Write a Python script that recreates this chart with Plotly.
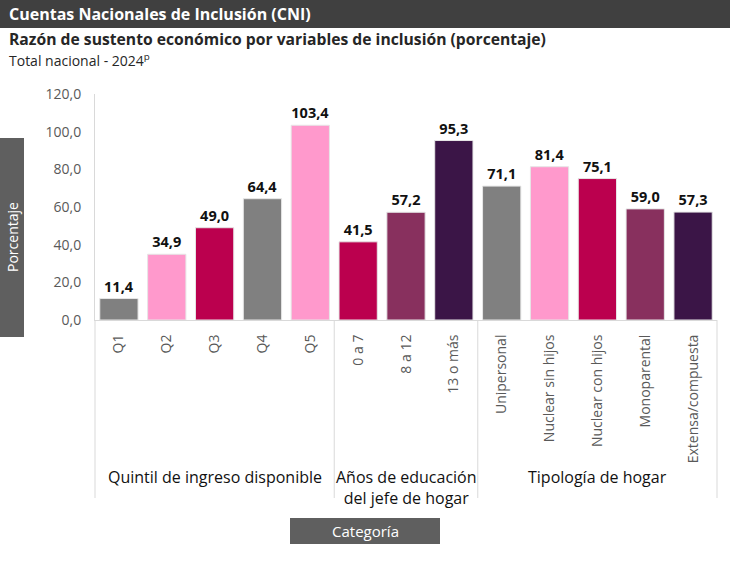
import plotly.graph_objects as go

# ---- data ----
categories = ["Q1", "Q2", "Q3", "Q4", "Q5",
              "0 a 7", "8 a 12", "13 o más",
              "Unipersonal", "Nuclear sin hijos", "Nuclear con hijos", "Monoparental", "Extensa/compuesta"]
values = [11.4, 34.9, 49.0, 64.4, 103.4,
          41.5, 57.2, 95.3,
          71.1, 81.4, 75.1, 59.0, 57.3]
groups = ["Quintil de ingreso disponible", "Años de educación<br>del jefe de hogar", "Tipología de hogar"]
group_sizes = [5, 3, 5]
y_ticks = [0, 20, 40, 60, 80, 100, 120]

GRAY = "#808080"; PINK = "#FF99CC"; CRIMSON = "#BB004E"; PLUM = "#88305E"; DARK = "#3B1547"
bar_colors = [GRAY, PINK, CRIMSON, GRAY, PINK,
              CRIMSON, PLUM, DARK,
              GRAY, PINK, CRIMSON, PLUM, DARK]

# ---- layout geometry (pixels) ----
W, H = 730, 562
ML, MR, MT, MB = 95, 13, 94, 242
PW, PH = W - ML - MR, H - MT - MB

def px(x):
    return (x - ML) / PW

def py(y):
    return (H - MB - y) / PH

FONT = "Open Sans"
n = len(categories)

fig = go.Figure(go.Bar(
    x=list(range(n)), y=values,
    marker=dict(color=bar_colors, line=dict(color="#E6E6E6", width=1)),
    width=0.8,
    texttemplate="<b>%{y:.1f}</b>", textposition="outside", cliponaxis=False,
    textfont=dict(family=FONT, size=14.5, color="#111111"),
    hoverinfo="skip",
))

shapes = []
annotations = []

# header bar
shapes.append(dict(type="rect", xref="paper", yref="paper", x0=px(0), x1=px(W), y0=py(28), y1=py(0),
                   fillcolor="#404040", line=dict(width=0), layer="below"))
annotations.append(dict(xref="paper", yref="paper", x=px(7), y=py(14), xanchor="left", yanchor="middle",
                        text="<b>Cuentas Nacionales de Inclusión (CNI)</b>", showarrow=False,
                        font=dict(family=FONT, size=16, color="white")))
annotations.append(dict(xref="paper", yref="paper", x=px(7), y=py(39), xanchor="left", yanchor="middle",
                        text="<b>Razón de sustento económico por variables de inclusión (porcentaje)</b>", showarrow=False,
                        font=dict(family=FONT, size=15.7, color="#262626")))
annotations.append(dict(xref="paper", yref="paper", x=px(7), y=py(60), xanchor="left", yanchor="middle",
                        text="Total nacional - 2024<sup>p</sup>", showarrow=False,
                        font=dict(family=FONT, size=14, color="#262626")))

# group separators and labels
bounds = [0]
for s in group_sizes:
    bounds.append(bounds[-1] + s)
for b in bounds:
    xp = b / n
    shapes.append(dict(type="line", xref="paper", yref="paper", x0=xp, x1=xp, y0=0, y1=py(498),
                       line=dict(color="#D9D9D9", width=1)))
for g, (a, b) in zip(groups, zip(bounds[:-1], bounds[1:])):
    annotations.append(dict(xref="paper", yref="paper", x=(a + b) / 2 / n, y=py(464), yanchor="top",
                            xanchor="center", text=g, showarrow=False,
                            font=dict(family=FONT, size=16, color="#111111")))

# axis title boxes
shapes.append(dict(type="rect", xref="paper", yref="paper", x0=px(0), x1=px(24), y0=py(337), y1=py(138),
                   fillcolor="#5F5F5F", line=dict(width=0)))
annotations.append(dict(xref="paper", yref="paper", x=px(12.5), y=py(237.5), xanchor="center", yanchor="middle",
                        text="Porcentaje", textangle=-90, showarrow=False,
                        font=dict(family=FONT, size=14, color="white")))
shapes.append(dict(type="rect", xref="paper", yref="paper", x0=px(290), x1=px(440), y0=py(544), y1=py(518),
                   fillcolor="#5F5F5F", line=dict(width=0)))
annotations.append(dict(xref="paper", yref="paper", x=px(365), y=py(531), xanchor="center", yanchor="middle",
                        text="Categoría", showarrow=False,
                        font=dict(family=FONT, size=15, color="white")))

fig.update_layout(
    width=W, height=H,
    margin=dict(l=ML, r=MR, t=MT, b=MB, pad=0),
    paper_bgcolor="white", plot_bgcolor="white",
    separators=",.",
    showlegend=False,
    bargap=0.2,
    shapes=shapes, annotations=annotations,
    font=dict(family=FONT),
    xaxis=dict(
        range=[-0.5, n - 0.5], tickmode="array", tickvals=list(range(n)), ticktext=categories,
        tickangle=-90, showgrid=False, zeroline=False,
        showline=True, linecolor="#D9D9D9", linewidth=1,
        ticks="outside", ticklen=8, tickcolor="rgba(0,0,0,0)",
        tickfont=dict(family=FONT, size=14, color="#595959"),
    ),
    yaxis=dict(
        range=[0, 120], tickmode="array", tickvals=y_ticks, tickformat=".1f",
        showgrid=False, zeroline=False,
        showline=True, linecolor="#D9D9D9", linewidth=1,
        ticks="outside", ticklen=10, tickcolor="rgba(0,0,0,0)",
        tickfont=dict(family=FONT, size=14, color="#595959"),
    ),
)

fig.write_html("out.html")
